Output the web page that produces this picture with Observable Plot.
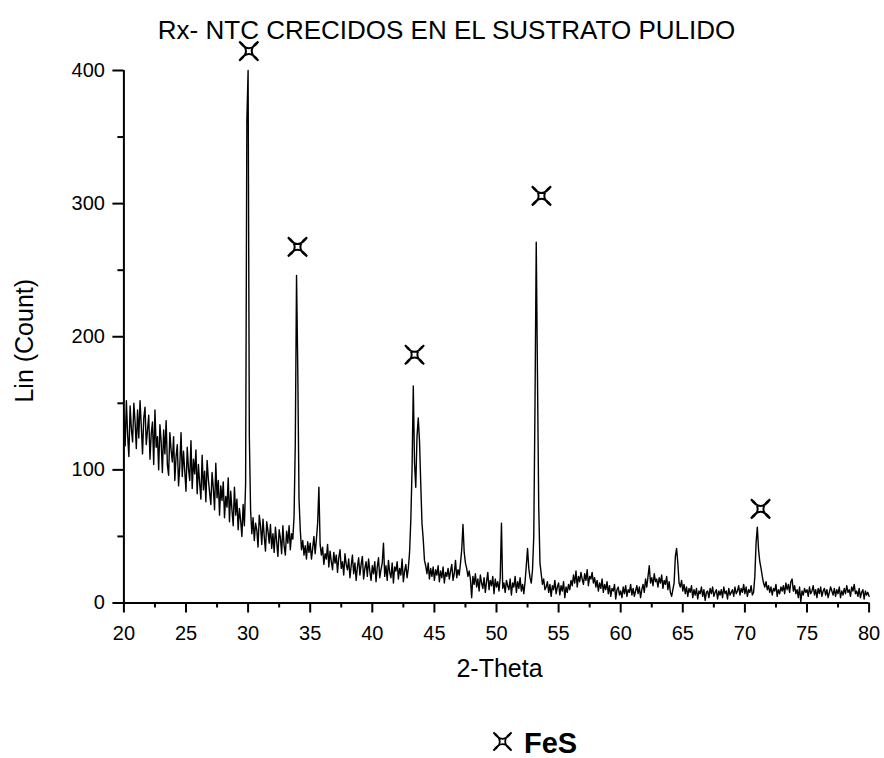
<!DOCTYPE html>
<html>
<head>
<meta charset="utf-8">
<script src="https://cdn.jsdelivr.net/npm/d3@7"></script>
<script src="https://cdn.jsdelivr.net/npm/@observablehq/plot@0.6"></script>
<style>
  html, body { margin: 0; padding: 0; background: #fff; }
  #chart { position: relative; width: 884px; height: 758px; overflow: hidden; font-family: "Liberation Sans", Arial, sans-serif; color: #000; }
  #title { position: absolute; left: 0; top: 16.6px; width: 884px; box-sizing: border-box; padding-left: 9px; text-align: center; font-size: 26px; line-height: 26px; white-space: nowrap; }
  #plot { position: absolute; left: 0; top: 50px; }
  #legendStar { position: absolute; left: 491px; top: 730px; }
  #legendText { position: absolute; left: 524px; top: 731px; font-size: 29px; line-height: 24px; font-weight: bold; }
</style>
</head>
<body>
<div id="chart">
  <div id="title"></div>
  <div id="plot"></div>
  <svg id="legendStar" width="23" height="23" viewBox="-11.5 -11.5 23 23"></svg>
  <div id="legendText"></div>
</div>
<script>
// ---- data ----
const chartTitle = "Rx- NTC CRECIDOS EN EL SUSTRATO PULIDO";
const xLabel = "2-Theta";
const yLabel = "Lin (Count)";
const legendLabel = "FeS";

const thetaStart = 20;   // first 2-Theta value of the scan
const thetaStep = 0.1;   // scan step

// intensity, one row per degree (x.0 ... x.9)
const counts = [
  142,118,152,126,110,148,131,121,150,136,
  116,145,124,152,133,112,139,147,119,130,
  141,108,127,136,104,145,117,125,100,134,
  121,98,130,112,137,104,96,128,115,106,
  125,92,110,119,88,103,128,95,114,99,
  84,117,101,92,122,86,108,97,115,82,
  104,90,78,111,85,99,76,107,93,83,
  74,98,86,70,105,79,92,66,88,77,
  91,64,80,72,94,61,84,70,58,87,
  66,78,55,71,62,50,74,58,90,362,
  400,125,70,52,64,47,60,55,42,66,
  58,44,63,50,39,61,54,45,59,41,
  52,38,57,46,35,55,49,37,58,43,
  36,54,45,58,40,52,48,65,120,246,
  175,78,55,40,47,36,43,33,46,38,
  45,33,41,50,37,48,60,87,44,36,
  42,29,37,33,44,27,39,31,25,38,
  30,36,23,34,40,26,31,21,37,29,
  25,33,19,28,36,22,30,17,27,34,
  21,29,35,18,26,31,20,33,24,17,
  28,22,31,16,27,34,19,25,30,45,
  20,28,17,32,23,19,30,15,27,24,
  31,18,26,21,33,16,24,29,19,26,
  38,62,100,163,105,87,125,139,122,90,
  60,48,32,28,22,30,18,26,20,27,
  17,25,21,28,16,24,19,27,15,23,
  20,26,18,24,29,17,22,32,19,25,
  21,30,40,59,38,30,26,20,24,18,
  4,20,14,22,12,18,9,21,15,11,
  19,8,16,23,10,17,13,20,7,18,
  12,16,9,19,60,11,15,8,17,13,
  10,18,6,15,12,20,8,16,11,19,
  9,14,7,16,28,41,26,19,15,25,
  50,150,271,170,72,30,22,14,18,10,
  12,16,8,14,5,13,10,17,7,12,
  15,6,13,9,16,4,12,8,14,10,
  17,13,21,15,24,12,20,16,23,18,
  14,22,17,25,13,20,18,23,15,19,
  12,17,9,15,11,18,8,14,10,16,
  7,13,5,11,9,14,3,10,12,6,
  9,4,12,7,13,5,10,8,14,6,
  11,5,9,13,7,12,4,10,14,8,
  18,12,20,28,15,19,13,22,16,18,
  12,19,15,21,11,17,14,20,10,16,
  8,5,10,15,35,41,30,15,12,17,
  9,14,7,12,5,11,8,13,4,10,
  6,11,3,9,7,12,5,10,2,8,
  9,4,11,7,12,5,8,10,3,9,
  6,10,4,12,7,9,3,11,6,8,
  10,5,12,7,9,13,6,11,8,14,
  7,12,5,10,8,13,6,8,20,45,
  57,40,31,26,20,15,12,16,10,13,
  8,12,6,11,9,14,5,10,7,12,
  9,13,7,15,10,14,8,16,18,9,
  13,7,10,4,12,1,9,6,11,8,
  10,5,12,7,9,13,6,10,4,11,
  7,12,5,9,11,6,10,4,8,12,
  9,6,11,5,10,7,12,4,9,6,
  11,7,13,8,10,5,12,9,14,7,
  9,5,11,4,8,10,3,9,6,8,
  5
];

// FeS peak markers
const markerTheta = [30.06, 33.98, 43.4, 53.62, 71.26];
const markerCount = [414.6, 267.5, 186.5, 305.8, 70.7];

// axis ticks
const majorX = [20, 25, 30, 35, 40, 45, 50, 55, 60, 65, 70, 75, 80];
const minorX = [22.5, 27.5, 32.5, 37.5, 42.5, 47.5, 52.5, 57.5, 62.5, 67.5, 72.5, 77.5];
const majorY = [0, 100, 200, 300, 400];
const minorY = [50, 150, 250, 350];

// ---- build tables ----
const scan = counts.map((c, i) => ({theta: +(thetaStart + i * thetaStep).toFixed(2), count: c}));
const markers = markerTheta.map((t, i) => ({theta: t, count: markerCount[i]}));

// four-pointed concave star, points on the diagonals (X shaped)
const star = {
  draw(context, size) {
    const a = Math.sqrt(size / Math.PI);
    const k = 0.4 * a;
    context.moveTo(a, a);
    context.quadraticCurveTo(0, -k, -a, a);
    context.quadraticCurveTo(k, 0, -a, -a);
    context.quadraticCurveTo(0, k, a, -a);
    context.quadraticCurveTo(-k, 0, a, a);
    context.closePath();
  }
};

const font = "Liberation Sans, Arial, sans-serif";

const chart = Plot.plot({
  width: 884,
  height: 628,
  marginTop: 20,
  marginBottom: 75.5,
  marginLeft: 123.4,
  marginRight: 15.4,
  style: {fontFamily: font, color: "black", background: "white", overflow: "visible"},
  x: {domain: [20, 80]},
  y: {domain: [0, 400]},
  marks: [
    Plot.line(scan, {x: "theta", y: "count", stroke: "black", strokeWidth: 1.4}),
    Plot.ruleY([0], {stroke: "black", strokeWidth: 2}),
    Plot.ruleX([20], {stroke: "black", strokeWidth: 2}),
    Plot.axisX({ticks: majorX, tickSize: 10, tickPadding: 12.5, fontSize: 20, strokeWidth: 2, label: null, tickFormat: (d) => String(d)}),
    Plot.axisX({ticks: minorX, tickSize: 5, strokeWidth: 2, label: null, tickFormat: () => ""}),
    Plot.axisY({ticks: majorY, tickSize: 11, tickPadding: 8, fontSize: 20, strokeWidth: 2, label: null, tickFormat: (d) => String(d)}),
    Plot.axisY({ticks: minorY, tickSize: 6, strokeWidth: 2, label: null, tickFormat: () => ""}),
    Plot.dot(markers, {x: "theta", y: "count", r: 9.5, symbol: star, fill: "white", stroke: "black", strokeWidth: 2}),
    Plot.text([xLabel], {frameAnchor: "bottom", dx: 3, dy: 73.5, lineAnchor: "bottom", fontSize: 25, fill: "black"}),
    Plot.text([yLabel], {frameAnchor: "left", dx: -99.4, dy: 4, rotate: -90, lineAnchor: "middle", textAnchor: "middle", fontSize: 25, fill: "black"})
  ]
});
document.getElementById("plot").appendChild(chart);
document.getElementById("title").textContent = chartTitle;
document.getElementById("legendText").textContent = legendLabel;

// legend symbol
const p = d3.path();
star.draw(p, 9 * 9 * Math.PI);
d3.select("#legendStar").append("path")
  .attr("d", p.toString())
  .attr("fill", "white")
  .attr("stroke", "black")
  .attr("stroke-width", 1.8);
</script>
</body>
</html>
